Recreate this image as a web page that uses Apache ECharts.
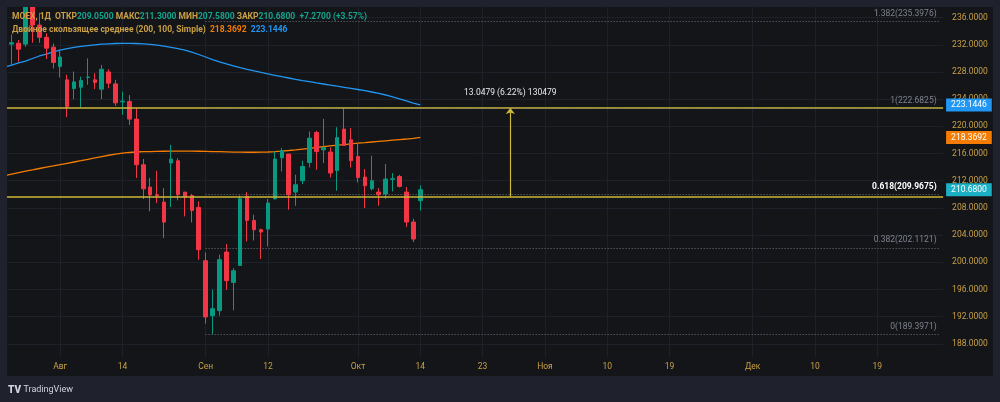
<!DOCTYPE html>
<html>
<head>
<meta charset="utf-8">
<script src="https://cdn.jsdelivr.net/npm/echarts@6/dist/echarts.min.js"></script>
<style>
  html, body { margin: 0; padding: 0; background: #131519; }
  #chart { width: 1000px; height: 402px; }
</style>
</head>
<body>
<div id="chart"></div>
<script>
// MOEX daily candles, [open, close, low, high]
const candles = [
  [235.2, 232.4, 231.5, 235.9], [232.1, 232.3, 229.0, 233.5], [232.24, 231.35, 229.5, 232.7],
  [232.1, 238.5, 231.7, 239.5], [238.5, 234.9, 232.3, 239.0], [234.9, 233.1, 232.3, 236.7],
  [233.1, 231.5, 229.9, 233.7], [231.65, 229.4, 228.5, 232.2], [228.8, 230.2, 227.2, 231.35],
  [226.84, 222.9, 221.35, 227.6], [225.56, 226.54, 224.0, 228.06], [225.76, 226.74, 222.8, 227.3],
  [227.2, 227.25, 226.1, 230.0], [226.84, 226.44, 225.47, 227.8], [225.47, 228.4, 224.0, 229.04],
  [228.0, 226.35, 225.6, 228.4], [226.24, 223.45, 223.0, 226.84], [223.6, 223.7, 221.7, 225.1],
  [223.65, 221.06, 220.2, 224.6], [221.06, 214.34, 212.4, 222.7], [214.34, 210.8, 209.3, 215.2],
  [211.06, 209.9, 207.5, 212.4], [209.95, 209.8, 208.7, 213.45], [208.85, 205.9, 203.56, 210.9],
  [214.6, 215.18, 208.12, 217.28], [214.93, 209.93, 209.1, 215.32], [210.32, 209.59, 206.74, 210.32],
  [209.82, 207.62, 205.85, 210.07], [208.06, 201.84, 200.37, 208.94], [200.22, 191.94, 190.96, 201.44],
  [192.13, 193.16, 189.4, 195.96], [192.87, 200.37, 192.13, 201.1], [201.5, 197.28, 195.96, 202.68],
  [197.03, 198.75, 192.91, 199.14], [199.53, 209.34, 199.5, 209.82], [209.68, 206.15, 203.06, 210.32],
  [206.15, 204.78, 203.2, 206.99], [204.78, 204.44, 200.47, 204.93], [204.88, 208.71, 202.32, 209.3],
  [209.34, 215.18, 209.2, 216.29], [215.37, 216.44, 213.35, 216.8], [215.91, 209.93, 207.72, 215.91],
  [210.32, 211.4, 208.31, 212.87], [211.99, 214.09, 211.5, 214.93], [214.68, 218.26, 213.94, 219.24],
  [219.09, 216.29, 213.6, 219.34], [216.54, 216.88, 214.59, 221.1], [216.21, 213.12, 212.47, 216.88],
  [213.5, 218.35, 210.51, 219.88], [219.59, 217.18, 217.1, 222.68], [218.01, 214.93, 213.94, 219.74],
  [215.56, 212.47, 211.74, 217.53], [212.53, 211.25, 207.97, 213.71], [210.81, 211.99, 210.56, 215.66],
  [210.32, 209.93, 208.31, 210.91], [210.03, 212.24, 209.34, 214.44], [212.2, 212.3, 210.41, 213.12],
  [212.62, 211.15, 211.0, 212.87], [210.32, 205.91, 205.18, 211.06], [205.91, 203.41, 202.97, 206.4],
  [209.05, 210.68, 207.58, 211.3]
];

// double moving average (200, 100, Simple)
const maSlow = [
  212.76, 212.98, 213.20, 213.42, 213.60, 213.79, 213.98, 214.17, 214.37, 214.56,
  214.75, 214.94, 215.15, 215.34, 215.54, 215.74, 215.90, 216.04, 216.15, 216.22,
  216.27, 216.29, 216.31, 216.33, 216.34, 216.34, 216.34, 216.34, 216.33, 216.32,
  216.29, 216.27, 216.24, 216.21, 216.19, 216.18, 216.18, 216.19, 216.22, 216.28,
  216.35, 216.44, 216.54, 216.65, 216.76, 216.88, 217.00, 217.12, 217.22, 217.32,
  217.43, 217.52, 217.60, 217.69, 217.78, 217.87, 217.96, 218.05, 218.13, 218.22,
  218.3692
];
const maFast = [
  228.73, 229.02, 229.32, 229.61, 229.98, 230.35, 230.64, 230.94, 231.23, 231.45,
  231.63, 231.78, 231.89, 232.00, 232.09, 232.14, 232.19, 232.22, 232.22, 232.19,
  232.14, 232.06, 231.94, 231.79, 231.63, 231.44, 231.20, 230.91, 230.57, 230.20,
  229.82, 229.50, 229.20, 228.91, 228.64, 228.39, 228.16, 227.94, 227.71, 227.51,
  227.30, 227.11, 226.92, 226.74, 226.57, 226.39, 226.23, 226.07, 225.90, 225.74,
  225.58, 225.42, 225.24, 225.05, 224.84, 224.61, 224.34, 224.05, 223.73, 223.42,
  223.1446
];

const priceTicks = [188, 192, 196, 200, 204, 208, 212, 216, 220, 224, 228, 232, 236];
const timeTicks = {
  '2025-08-01': 'Авг', '2025-08-14': '14', '2025-09-01': 'Сен', '2025-09-12': '12',
  '2025-10-01': 'Окт', '2025-10-14': '14', '2025-10-23': '23', '2025-11-01': 'Ноя',
  '2025-11-10': '10', '2025-11-19': '19', '2025-12-01': 'Дек', '2025-12-10': '10',
  '2025-12-19': '19'
};

// drawings
const fibLow = 189.3971;
const fibHigh = 222.68253;
const fibRatios = [0, 0.382, 0.618, 1, 1.382];
const fibStart = '2025-09-01';
const horizLines = [222.6825, 209.6346];
const measureDate = '2025-10-27';
const measureFrom = 209.6346;
const measureTo = 222.6825;

const firstDay = '2025-07-22';
const emptyDays = 75;

// ---- category axis: trading days, then calendar days ahead ----
const dates = [];
let d = new Date(firstDay + 'T00:00:00Z');
while (dates.length < candles.length) {
  const wd = d.getUTCDay();
  if (wd !== 0 && wd !== 6) dates.push(d.toISOString().slice(0, 10));
  d.setUTCDate(d.getUTCDate() + 1);
}
for (let i = 0; i < emptyDays; i++) {
  dates.push(d.toISOString().slice(0, 10));
  d.setUTCDate(d.getUTCDate() + 1);
}
const lastDate = dates[dates.length - 1];

const gold = '#c9a044';
const teal = '#14a38c';
const gridColor = '#1e2129';
const frame = '#1f222c';
const font = 'Roboto, sans-serif';

const last = candles[candles.length - 1];
const prev = candles[candles.length - 2];
const chg = last[1] - prev[1];
const chgPct = chg / prev[1] * 100;

// grid lines as marklines so they sit on the candle centres
const gridLines = priceTicks.map(v => ({ yAxis: v }))
  .concat(Object.keys(timeTicks).map(t => ({ xAxis: t })));

// price tag on the right scale
function tag(value, bg) {
  return {
    yAxis: value,
    lineStyle: { color: 'rgba(0,0,0,0)', width: 1 },
    label: {
      show: true, position: 'end', distance: 3, opacity: 1,
      formatter: value.toFixed(4),
      backgroundColor: bg, color: '#ffffff',
      padding: [2, 5, 2, 5], fontSize: 8.5, fontFamily: font, lineHeight: 9
    }
  };
}

const fibLines = fibRatios.map(r => {
  const p = fibLow + r * (fibHigh - fibLow);
  const hl = r === 0.618;
  return [
    {
      coord: [fibStart, p],
      lineStyle: { color: '#6f737d', type: [1, 2], width: 1 },
      label: {
        show: true, position: 'insideEndTop', distance: 3,
        formatter: r + '(' + p.toFixed(4) + ')',
        color: hl ? '#ffffff' : '#7f838e',
        fontWeight: hl ? 'bold' : 'normal',
        fontSize: 8.5, fontFamily: font
      }
    },
    { coord: [lastDate, p] }
  ];
});

const yellow = horizLines.map(v => ({
  yAxis: v,
  lineStyle: { color: '#cdb938', width: 1.5, type: 'solid' },
  label: { show: false }
}));

const diff = measureTo - measureFrom;
const measure = [
  {
    coord: [measureDate, measureFrom], symbol: 'none',
    lineStyle: { color: '#cdb938', width: 1.2, type: 'solid' },
    label: {
      show: true, position: 'end', distance: 11,
      formatter: diff.toFixed(4) + ' (' + (diff / measureFrom * 100).toFixed(2) + '%) ' + Math.round(diff * 10000),
      color: '#e6e8ee', fontSize: 8.5, fontFamily: font
    }
  },
  { coord: [measureDate, measureTo], symbol: 'arrow', symbolSize: [7, 6] }
];

const legendText =
  '{g|MOEX, 1Д  ОТКР}{v|' + last[0].toFixed(4) + '}{g| МАКС}{v|' + last[3].toFixed(4) +
  '}{g| МИН}{v|' + last[2].toFixed(4) + '}{g| ЗАКР}{v|' + last[1].toFixed(4) +
  '}{v|  +' + chg.toFixed(4) + ' (+' + chgPct.toFixed(2) + '%)}\n' +
  '{g|Двойное скользящее среднее (200, 100, Simple)}{o|  ' + maSlow[maSlow.length - 1].toFixed(4) +
  '}{b|  ' + maFast[maFast.length - 1].toFixed(4) + '}';

const rich = {};
[['g', gold], ['v', teal], ['o', '#f57c00'], ['b', '#2196f3']].forEach(([k, c]) => {
  rich[k] = { color: c, fontSize: 8.5, fontFamily: font, lineHeight: 13.5 };
});

const chart = echarts.init(document.getElementById('chart'));
chart.setOption({
  animation: false,
  backgroundColor: '#131519',
  title: {
    left: 12, top: 10, padding: 0,
    text: legendText,
    textStyle: { rich: rich, lineHeight: 13.5 }
  },
  grid: { left: 1.34, right: 56.9, top: 7, bottom: 45, outerBoundsMode: 'none' },
  xAxis: {
    type: 'category',
    data: dates,
    boundaryGap: true,
    axisLine: { show: false },
    axisTick: { show: false },
    splitLine: { show: false },
    axisLabel: {
      color: gold, fontSize: 8.5, fontFamily: font, margin: 5,
      interval: (i, v) => timeTicks[v] !== undefined,
      formatter: v => timeTicks[v] || ''
    }
  },
  yAxis: {
    type: 'value',
    position: 'right',
    min: 186.05,
    max: 237.56,
    axisLine: { show: false },
    axisTick: { show: false },
    splitLine: { show: false },
    axisLabel: {
      customValues: priceTicks,
      color: gold, fontSize: 8.5, fontFamily: font, margin: 9,
      formatter: v => v.toFixed(4)
    }
  },
  series: [
    {
      type: 'line',
      name: 'MA slow',
      data: maSlow,
      showSymbol: false,
      z: 2,
      lineStyle: { color: '#f57c00', width: 1.3 },
      markLine: {
        z: 1, silent: true, symbol: 'none', animation: false,
        lineStyle: { color: gridColor, width: 1, type: 'solid' },
        label: { show: false },
        data: gridLines.concat([tag(maSlow[maSlow.length - 1], '#f57c00')])
      }
    },
    {
      type: 'line',
      name: 'MA fast',
      data: maFast,
      showSymbol: false,
      z: 2,
      lineStyle: { color: '#2196f3', width: 1.3 },
      markLine: {
        silent: true, symbol: 'none', animation: false,
        data: [tag(maFast[maFast.length - 1], '#2196f3')]
      }
    },
    {
      type: 'candlestick',
      name: 'MOEX',
      data: candles,
      barWidth: 4,
      z: 3,
      itemStyle: {
        color: '#089981', color0: '#f23645',
        borderColor: '#089981', borderColor0: '#f23645', borderWidth: 1
      },
      markLine: {
        silent: true, symbol: 'none', animation: false,
        lineStyle: { type: 'solid' },
        data: yellow.concat(fibLines, [measure], [tag(last[1], '#1cb0c4')])
      }
    }
  ],
  graphic: [
    { type: 'rect', shape: { x: 0, y: 0, width: 1000, height: 7 }, style: { fill: frame }, z: 100 },
    { type: 'rect', shape: { x: 0, y: 0, width: 7, height: 402 }, style: { fill: frame }, z: 100 },
    { type: 'rect', shape: { x: 993, y: 0, width: 7, height: 402 }, style: { fill: frame }, z: 100 },
    { type: 'rect', shape: { x: 0, y: 376, width: 1000, height: 26 }, style: { fill: frame }, z: 100 },
    {
      type: 'text', x: 8, y: 390, z: 101,
      style: { text: 'TV', fill: '#d1d4dc', font: '900 10px ' + font, verticalAlign: 'middle' }
    },
    {
      type: 'text', x: 23.5, y: 390, z: 101,
      style: { text: 'TradingView', fill: '#d1d4dc', font: '9px ' + font, verticalAlign: 'middle' }
    }
  ]
});
</script>
</body>
</html>
